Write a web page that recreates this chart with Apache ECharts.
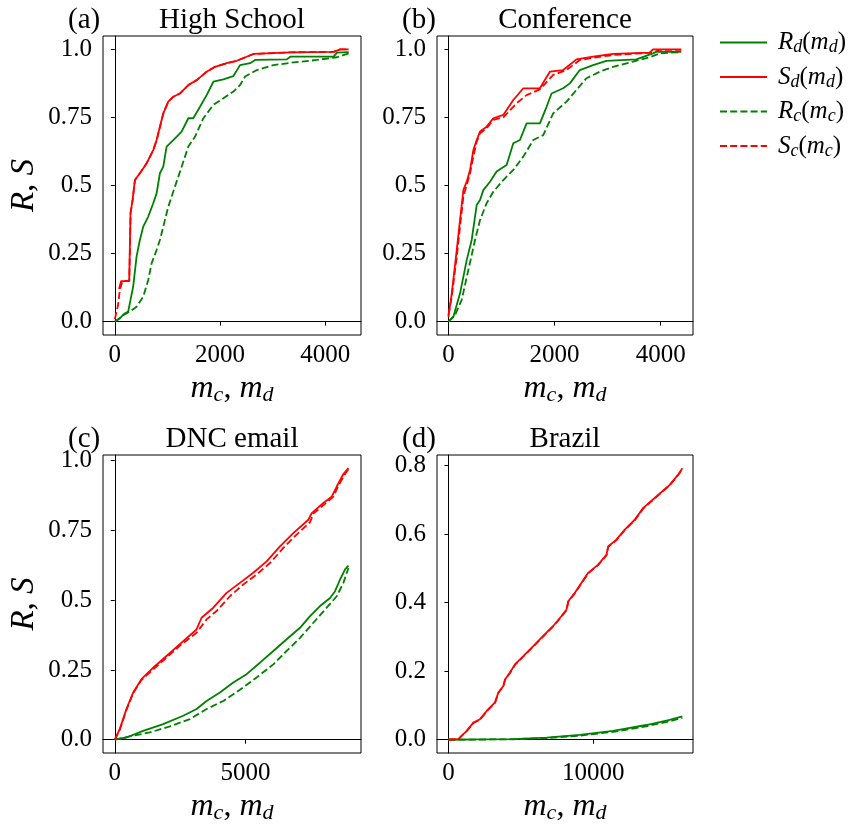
<!DOCTYPE html>
<html>
<head>
<meta charset="utf-8">
<script src="https://cdn.jsdelivr.net/npm/echarts@6/dist/echarts.min.js"></script>
<style>
html, body { margin: 0; padding: 0; background: #fff; }
#main { width: 853px; height: 825px; }
</style>
</head>
<body>
<div id="main"></div>
<script>
// (a) High School
var hsRd = [[0,0],[95,0.012],[171,0.028],[254,0.037],[298,0.08],[349,0.129],[413,0.239],[476,0.3],[540,0.349],[635,0.386],[730,0.435],[794,0.471],[857,0.545],[921,0.569],[984,0.643],[1111,0.667],[1270,0.698],[1397,0.747],[1492,0.747],[1619,0.789],[1746,0.832],[1873,0.881],[2064,0.89],[2254,0.902],[2381,0.942],[2572,0.949],[2667,0.961],[3270,0.963],[3334,0.973],[4159,0.973],[4223,0.988],[4445,0.99]];
var hsSd = [[80,0.12],[120,0.149],[273,0.149],[298,0.398],[337,0.447],[381,0.52],[476,0.545],[603,0.581],[730,0.63],[794,0.667],[857,0.716],[921,0.765],[1016,0.808],[1111,0.826],[1238,0.838],[1397,0.869],[1556,0.887],[1746,0.918],[1905,0.936],[2127,0.949],[2318,0.958],[2635,0.983],[3334,0.989],[4159,0.991],[4286,1.0],[4445,1.0]];
var hsRc = [[0,0],[159,0.024],[286,0.037],[413,0.055],[540,0.092],[635,0.153],[699,0.214],[794,0.263],[857,0.3],[921,0.349],[1016,0.422],[1143,0.496],[1270,0.569],[1397,0.643],[1524,0.679],[1683,0.747],[1873,0.796],[2064,0.82],[2254,0.845],[2381,0.869],[2477,0.9],[2699,0.924],[3016,0.942],[3397,0.952],[3842,0.961],[4223,0.971],[4445,0.985]];
var hsSc = [[0,0.01],[60,0.06],[95,0.116],[146,0.15],[275,0.15],[300,0.4],[340,0.448],[383,0.52],[480,0.546],[605,0.582],[732,0.63],[796,0.667],[860,0.716],[923,0.765],[1018,0.808],[1113,0.826],[1240,0.838],[1399,0.869],[1558,0.887],[1748,0.918],[1907,0.936],[2129,0.949],[2320,0.958],[2637,0.983],[3336,0.989],[4161,0.991],[4288,1.0],[4445,1.0]];

// (b) Conference
var cfRd = [[0,0],[94,0.018],[219,0.104],[345,0.226],[439,0.3],[533,0.428],[596,0.447],[658,0.483],[784,0.514],[909,0.551],[1097,0.575],[1223,0.655],[1348,0.667],[1474,0.728],[1724,0.728],[1850,0.789],[1944,0.838],[2163,0.857],[2289,0.875],[2477,0.924],[2727,0.942],[2978,0.958],[3542,0.963],[3856,0.985],[3919,0.991],[4389,0.991]];
var cfSd = [[0,0.018],[63,0.104],[157,0.263],[219,0.373],[282,0.483],[345,0.514],[408,0.557],[470,0.63],[533,0.667],[596,0.698],[721,0.716],[846,0.747],[1035,0.759],[1223,0.814],[1411,0.857],[1724,0.857],[1912,0.918],[2163,0.924],[2414,0.963],[2727,0.973],[3104,0.983],[3793,0.988],[3856,1.0],[4389,1.0]];
var cfRc = [[0,0],[125,0.024],[251,0.08],[376,0.19],[502,0.3],[596,0.373],[721,0.435],[846,0.477],[1035,0.52],[1223,0.557],[1411,0.606],[1599,0.667],[1787,0.685],[1975,0.765],[2226,0.808],[2414,0.851],[2602,0.894],[2853,0.918],[3104,0.936],[3480,0.955],[3825,0.973],[3981,0.985],[4389,0.99]];
var cfSc = [[0,0.024],[63,0.092],[157,0.239],[219,0.349],[282,0.459],[345,0.502],[408,0.545],[470,0.606],[533,0.661],[596,0.692],[721,0.71],[846,0.741],[1035,0.75],[1285,0.802],[1474,0.832],[1724,0.853],[1975,0.906],[2226,0.924],[2477,0.961],[2790,0.971],[3104,0.979],[3856,0.988],[3981,0.998],[4389,0.998]];

// (c) DNC email
var dnRd = [[0,0],[446,0.008],[1084,0.032],[1849,0.056],[2615,0.086],[3125,0.11],[3508,0.139],[4018,0.169],[4528,0.205],[5038,0.235],[5548,0.276],[6059,0.318],[6569,0.36],[7079,0.401],[7462,0.443],[7844,0.479],[8227,0.508],[8418,0.532],[8610,0.574],[8801,0.61],[8929,0.624]];
var dnSd = [[0,0],[191,0.038],[446,0.11],[702,0.169],[1020,0.217],[1467,0.258],[1977,0.3],[2551,0.348],[3125,0.395],[3316,0.437],[3763,0.473],[4273,0.526],[4783,0.562],[5293,0.598],[5804,0.639],[6314,0.693],[6824,0.74],[7398,0.788],[7526,0.812],[7972,0.848],[8291,0.871],[8482,0.907],[8737,0.952],[8929,0.973]];
var dnRc = [[0,0],[574,0.012],[1339,0.026],[2105,0.048],[2870,0.074],[3508,0.11],[4145,0.139],[4783,0.179],[5421,0.223],[6059,0.27],[6569,0.318],[7079,0.365],[7589,0.419],[8099,0.473],[8482,0.514],[8737,0.562],[8929,0.615]];
var dnSc = [[0,0],[191,0.036],[446,0.107],[702,0.167],[1020,0.214],[1467,0.252],[1977,0.294],[2551,0.342],[3125,0.383],[3508,0.431],[3890,0.461],[4400,0.514],[4911,0.556],[5421,0.592],[5931,0.633],[6441,0.687],[6951,0.735],[7462,0.779],[7589,0.81],[8036,0.845],[8355,0.871],[8546,0.91],[8801,0.952],[8929,0.969]];

// (d) Brazil
var brRd = [[0,0],[2184,0.001],[4483,0.002],[6782,0.006],[9081,0.014],[11380,0.026],[13679,0.043],[15289,0.058],[16163,0.068]];
var brSd = [[0,0],[690,0.002],[920,0.012],[1264,0.026],[1724,0.05],[2184,0.06],[2644,0.084],[3219,0.109],[3449,0.138],[3793,0.157],[3908,0.176],[4253,0.196],[4598,0.22],[5173,0.244],[5862,0.273],[6552,0.303],[7242,0.332],[7817,0.361],[8161,0.38],[8276,0.404],[8736,0.429],[9196,0.458],[9656,0.487],[10346,0.511],[10920,0.54],[11035,0.564],[11610,0.584],[12185,0.613],[12875,0.642],[13450,0.676],[14370,0.71],[15290,0.744],[15864,0.773],[16163,0.792]];
var brRc = [[0,0],[2184,0.0005],[4483,0.0015],[6782,0.005],[9081,0.012],[11380,0.023],[13679,0.039],[15289,0.054],[16163,0.064]];
var brSc = [[0,0],[700,0.002],[930,0.012],[1270,0.026],[1730,0.049],[2190,0.059],[2650,0.083],[3225,0.108],[3455,0.137],[3800,0.156],[3915,0.175],[4260,0.195],[4605,0.219],[5180,0.243],[5870,0.272],[6560,0.302],[7250,0.331],[7825,0.36],[8170,0.379],[8285,0.403],[8745,0.428],[9205,0.457],[9665,0.486],[10355,0.51],[10930,0.539],[11045,0.563],[11620,0.583],[12195,0.612],[12885,0.641],[13460,0.675],[14380,0.709],[15300,0.743],[15870,0.772],[16163,0.79]];

var ticks4k = [0, 2000, 4000];
var ticks5k = [0, 5000];
var ticks10k = [0, 10000];
var ticksUnit = [0, 0.25, 0.5, 0.75, 1.0];
var labelsUnit = ['0.0', '0.25', '0.5', '0.75', '1.0'];
var ticksBr = [0, 0.2, 0.4, 0.6, 0.8];
var labelsBr = ['0.0', '0.2', '0.4', '0.6', '0.8'];

var titles = ['High School', 'Conference', 'DNC email', 'Brazil'];
var tags = ['(a)', '(b)', '(c)', '(d)'];
var seriesNames = ['Rd', 'Sd', 'Rc', 'Sc'];
var panelData = [
    [hsRd, hsSd, hsRc, hsSc],
    [cfRd, cfSd, cfRc, cfSc],
    [dnRd, dnSd, dnRc, dnSc],
    [brRd, brSd, brRc, brSc]
];

var SERIF = 'Liberation Serif';
var GREEN = '#008000', RED = '#ff0000';

function rich(F) {
    return {
        i: { fontFamily: SERIF, fontStyle: 'italic', fontSize: F, color: '#000' },
        n: { fontFamily: SERIF, fontSize: F, color: '#000' },
        s: { fontFamily: SERIF, fontStyle: 'italic', fontSize: Math.round(F * 0.7), color: '#000', padding: [Math.round(F * 0.4), 0, 0, 0] },
        g: { width: 6 }
    };
}

var legendText = {
    Rd: '{g|}{i|R}{s|d}{n|(}{i|m}{s|d}{n|)}',
    Sd: '{g|}{i|S}{s|d}{n|(}{i|m}{s|d}{n|)}',
    Rc: '{g|}{i|R}{s|c}{n|(}{i|m}{s|c}{n|)}',
    Sc: '{g|}{i|S}{s|c}{n|(}{i|m}{s|c}{n|)}'
};

var layout = [
    { left: 103, top: 36, width: 258, height: 299, x: [-225, 4680], y: [-0.049, 1.049] },
    { left: 437, top: 36, width: 256, height: 299, x: [-215, 4610], y: [-0.049, 1.049] },
    { left: 103, top: 455, width: 258, height: 299, x: [-450, 9410], y: [-0.0475, 1.02] },
    { left: 437, top: 455, width: 256, height: 299, x: [-790, 16900], y: [-0.0387, 0.831] }
];
var xTicks = [ticks4k, ticks4k, ticks5k, ticks10k];
var yTicks = [ticksUnit, ticksUnit, ticksUnit, ticksBr];
var yLabels = [labelsUnit, labelsUnit, labelsUnit, labelsBr];

var grids = [], xAxes = [], yAxes = [], series = [], graphics = [];

layout.forEach(function (L, k) {
    grids.push({
        left: L.left, top: L.top, width: L.width, height: L.height,
        show: true, borderColor: '#000', borderWidth: 1, backgroundColor: 'transparent'
    });
    xAxes.push({
        gridIndex: k, type: 'value', min: L.x[0], max: L.x[1],
        splitLine: { show: false },
        axisLine: { show: true, lineStyle: { color: '#000', width: 1 } },
        axisTick: { show: true, customValues: xTicks[k], length: 4, lineStyle: { color: '#000', width: 1 } },
        axisLabel: {
            customValues: xTicks[k], color: '#000', fontFamily: SERIF, fontSize: 25, margin: 8,
            formatter: function (v) { return String(v); }
        },
        name: '{i|m}{s|c}{n|, }{i|m}{s|d}',
        nameLocation: 'middle', nameGap: 36,
        nameTextStyle: { rich: rich(32) }
    });
    var yl = yLabels[k], yt = yTicks[k];
    yAxes.push({
        gridIndex: k, type: 'value', min: L.y[0], max: L.y[1],
        splitLine: { show: false },
        axisLine: { show: true, lineStyle: { color: '#000', width: 1 } },
        axisTick: { show: true, customValues: yt, length: 4, lineStyle: { color: '#000', width: 1 } },
        axisLabel: {
            customValues: yt, color: '#000', fontFamily: SERIF, fontSize: 25, margin: 11,
            formatter: function (v) { return yl[yt.indexOf(v)]; }
        },
        name: (k % 2 === 0) ? '{i|R}{n|, }{i|S}' : '',
        nameLocation: 'middle', nameGap: 62,
        nameTextStyle: { rich: rich(33) }
    });
    panelData[k].forEach(function (d, j) {
        series.push({
            name: seriesNames[j], type: 'line', xAxisIndex: k, yAxisIndex: k,
            data: d, symbol: 'none', silent: true,
            lineStyle: { color: j % 2 === 0 ? GREEN : RED, width: 1.8, type: j < 2 ? 'solid' : [7, 3.2] },
            itemStyle: { color: j % 2 === 0 ? GREEN : RED }
        });
    });
    var cx = L.left + L.width / 2;
    var ty = L.top - 16;
    graphics.push({
        type: 'text', x: cx, y: ty,
        style: { text: titles[k], font: '29px "Liberation Serif"', fill: '#000', textAlign: 'center', textVerticalAlign: 'middle' }
    });
    graphics.push({
        type: 'text', x: L.left - 35, y: ty,
        style: { text: tags[k], font: '29px "Liberation Serif"', fill: '#000', textAlign: 'left', textVerticalAlign: 'middle' }
    });
});

var myChart = echarts.init(document.getElementById('main'));
var option = {
    animation: false,
    backgroundColor: '#fff',
    grid: grids,
    xAxis: xAxes,
    yAxis: yAxes,
    legend: {
        data: seriesNames,
        orient: 'vertical',
        left: 714, top: 25,
        itemWidth: 47, itemHeight: 14, itemGap: 8,
        itemStyle: { opacity: 0 },
        formatter: function (name) { return legendText[name]; },
        textStyle: { rich: rich(25) }
    },
    graphic: graphics,
    series: series
};
myChart.setOption(option);
</script>
</body>
</html>
